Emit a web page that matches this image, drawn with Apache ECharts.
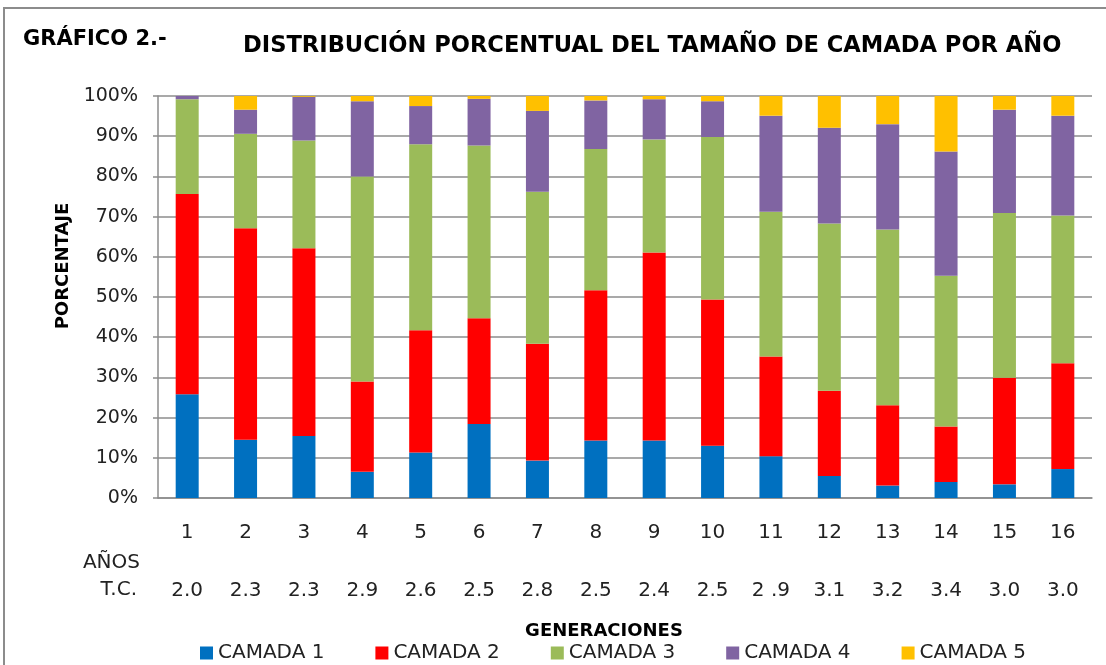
<!DOCTYPE html>
<html>
<head>
<meta charset="utf-8">
<script src="https://cdn.jsdelivr.net/npm/echarts@6/dist/echarts.min.js"></script>
<style>
html, body { margin: 0; padding: 0; background: #fff; }
#main { width: 1106px; height: 665px; }
</style>
</head>
<body>
<div id="main"></div>
<script>
// generaciones y tamaño de camada (T.C.)
var generaciones = ['1', '2', '3', '4', '5', '6', '7', '8', '9', '10', '11', '12', '13', '14', '15', '16'];
var tamanoCamada = ['2.0', '2.3', '2.3', '2.9', '2.6', '2.5', '2.8', '2.5', '2.4', '2.5', '2 .9', '3.1', '3.2', '3.4', '3.0', '3.0'];

// porcentajes por camada
var camada1 = [25.8, 14.5, 15.4, 6.5, 11.3, 18.4, 9.3, 14.3, 14.3, 13.0, 10.4, 5.5, 3.1, 4.0, 3.4, 7.2];
var camada2 = [49.8, 52.6, 46.7, 22.5, 30.4, 26.3, 29.1, 37.4, 46.8, 36.4, 24.8, 21.2, 20.0, 13.8, 26.5, 26.3];
var camada3 = [23.6, 23.5, 26.8, 51.0, 46.3, 43.0, 37.8, 35.1, 28.1, 40.4, 36.0, 41.6, 43.7, 37.5, 41.0, 36.8];
var camada4 = [0.8, 6.0, 10.9, 18.7, 9.5, 11.6, 20.1, 12.1, 10.0, 8.9, 23.9, 23.8, 26.2, 30.9, 25.7, 24.8];
var camada5 = [0, 3.4, 0.2, 1.3, 2.5, 0.7, 3.7, 1.1, 0.8, 1.3, 4.9, 7.9, 7.0, 13.8, 3.4, 4.9];

var nombres = ['CAMADA 1', 'CAMADA 2', 'CAMADA 3', 'CAMADA 4', 'CAMADA 5'];
var colores = ['#0070c0', '#ff0000', '#9bbb59', '#8064a2', '#ffc000'];
var datos = [camada1, camada2, camada3, camada4, camada5];

var fuente = 'DejaVu Sans';
var gris = '#8c8c8c';

var myChart = echarts.init(document.getElementById('main'));

var series = [];
for (var i = 0; i < datos.length; i++) {
	series.push({
		name: nombres[i],
		type: 'bar',
		stack: 'total',
		barWidth: 23,
		xAxisIndex: 0,
		itemStyle: {
			color: colores[i]
		},
		data: datos[i]
	});
}

var option = {
	animation: false,
	color: colores,
	textStyle: {
		fontFamily: fuente
	},
	grid: {
		left: 158,
		right: 14,
		top: 96,
		bottom: 167
	},
	graphic: [{
		type: 'rect',
		shape: { x: 4, y: 8, width: 1200, height: 800 },
		style: { fill: 'none', stroke: gris, lineWidth: 2 },
		silent: true
	}, {
		type: 'text',
		left: 23,
		top: 29,
		style: {
			text: 'GRÁFICO 2.-',
			font: 'bold 21px "DejaVu Sans"',
			fill: '#000'
		}
	}, {
		type: 'text',
		left: 243,
		top: 35,
		style: {
			text: 'DISTRIBUCIÓN PORCENTUAL DEL TAMAÑO DE CAMADA POR AÑO',
			font: 'bold 22.6px "DejaVu Sans"',
			fill: '#000'
		}
	}, {
		type: 'text',
		x: 63,
		y: 266,
		rotation: Math.PI / 2,
		style: {
			text: 'PORCENTAJE',
			font: 'bold 18px "DejaVu Sans"',
			fill: '#000',
			align: 'center',
			verticalAlign: 'middle'
		}
	}, {
		type: 'text',
		x: 140,
		y: 563,
		style: {
			text: 'AÑOS',
			font: '20px "DejaVu Sans"',
			fill: '#222',
			align: 'right',
			verticalAlign: 'middle'
		}
	}, {
		type: 'text',
		x: 137,
		y: 590,
		style: {
			text: 'T.C.',
			font: '20px "DejaVu Sans"',
			fill: '#222',
			align: 'right',
			verticalAlign: 'middle'
		}
	}, {
		type: 'text',
		x: 604,
		y: 631,
		style: {
			text: 'GENERACIONES',
			font: 'bold 18px "DejaVu Sans"',
			fill: '#000',
			align: 'center',
			verticalAlign: 'middle'
		}
	}],
	legend: {
		left: 195,
		top: 638,
		itemWidth: 13,
		itemHeight: 13,
		itemGap: 51,
		icon: 'rect',
		textStyle: {
			fontFamily: fuente,
			fontSize: 20,
			color: '#222'
		},
		data: nombres
	},
	xAxis: [{
		type: 'category',
		data: generaciones,
		axisLine: {
			lineStyle: { color: gris, width: 1.5 }
		},
		axisTick: {
			length: 6,
			lineStyle: { color: gris, width: 1.5 }
		},
		axisLabel: {
			margin: 25,
			fontSize: 20,
			color: '#222'
		}
	}, {
		type: 'category',
		position: 'bottom',
		offset: 59,
		data: tamanoCamada,
		axisLine: { show: false },
		axisTick: { show: false },
		splitLine: { show: false },
		axisLabel: {
			margin: 24,
			fontSize: 20,
			color: '#222'
		}
	}],
	yAxis: {
		type: 'value',
		min: 0,
		max: 100,
		interval: 10,
		axisLine: {
			show: true,
			lineStyle: { color: gris, width: 1.5 }
		},
		axisTick: {
			show: true,
			length: 5,
			lineStyle: { color: gris, width: 1.5 }
		},
		splitLine: {
			lineStyle: { color: gris, width: 1.5 }
		},
		axisLabel: {
			margin: 20,
			fontSize: 19,
			color: '#222',
			formatter: '{value}%'
		}
	},
	series: series
};
myChart.setOption(option);
</script>
</body>
</html>
